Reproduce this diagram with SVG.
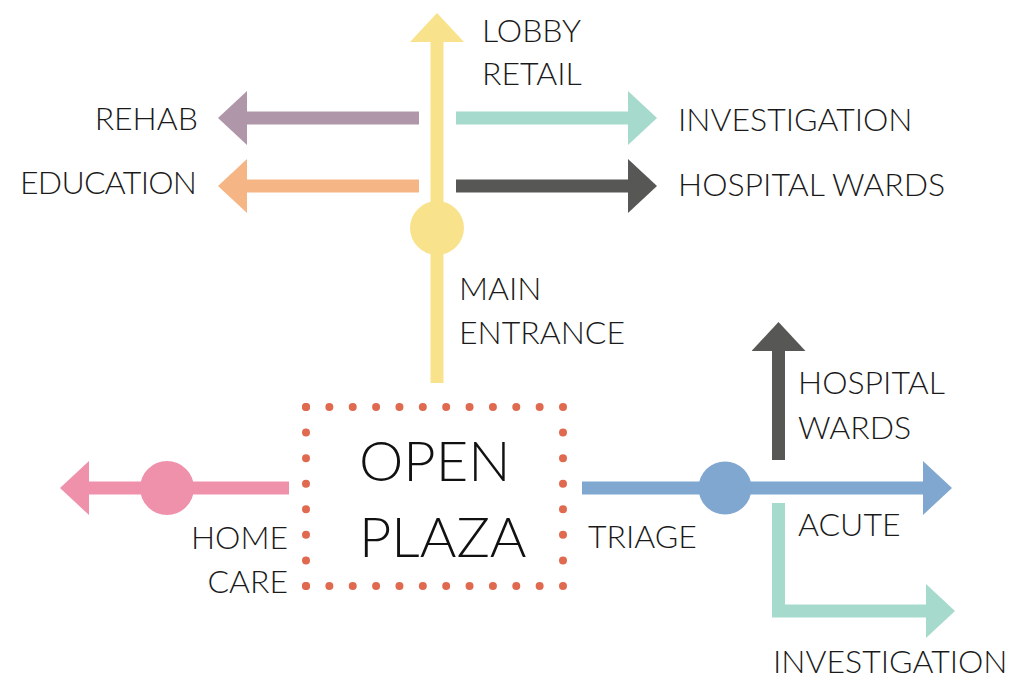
<svg xmlns="http://www.w3.org/2000/svg" width="1011" height="679" viewBox="0 0 1011 679">
<style>
.lbl{font-family:Lato,"Open Sans","Liberation Sans",sans-serif;font-weight:300;font-size:32px;fill:#1a1a1a}
.big{font-family:Lato,"Open Sans","Liberation Sans",sans-serif;font-weight:300;font-size:56px;fill:#111}
.c{fill:none;stroke-width:13}
</style>
<defs>
<marker id="hY" markerUnits="userSpaceOnUse" markerWidth="30" markerHeight="54" viewBox="0 0 30 54" refX="0" refY="27" orient="auto"><path d="M0,0 L29,27 L0,54 Z" fill="#F9E28C"/></marker>
<marker id="hP" markerUnits="userSpaceOnUse" markerWidth="30" markerHeight="54" viewBox="0 0 30 54" refX="0" refY="27" orient="auto"><path d="M0,0 L29,27 L0,54 Z" fill="#AF97A9"/></marker>
<marker id="hT" markerUnits="userSpaceOnUse" markerWidth="30" markerHeight="54" viewBox="0 0 30 54" refX="0" refY="27" orient="auto"><path d="M0,0 L29,27 L0,54 Z" fill="#A6DACD"/></marker>
<marker id="hO" markerUnits="userSpaceOnUse" markerWidth="30" markerHeight="54" viewBox="0 0 30 54" refX="0" refY="27" orient="auto"><path d="M0,0 L29,27 L0,54 Z" fill="#F6B585"/></marker>
<marker id="hD" markerUnits="userSpaceOnUse" markerWidth="30" markerHeight="54" viewBox="0 0 30 54" refX="0" refY="27" orient="auto"><path d="M0,0 L29,27 L0,54 Z" fill="#575755"/></marker>
<marker id="hK" markerUnits="userSpaceOnUse" markerWidth="30" markerHeight="54" viewBox="0 0 30 54" refX="0" refY="27" orient="auto"><path d="M0,0 L29,27 L0,54 Z" fill="#EF91AB"/></marker>
<marker id="hB" markerUnits="userSpaceOnUse" markerWidth="30" markerHeight="54" viewBox="0 0 30 54" refX="0" refY="27" orient="auto"><path d="M0,0 L29,27 L0,54 Z" fill="#80A7D0"/></marker>
</defs>
<rect width="1011" height="679" fill="#fff"/>
<g id="connectors">
<path class="c" d="M437,383 V42" stroke="#F9E28C" marker-end="url(#hY)"/>
<path class="c" d="M419,118 H247" stroke="#AF97A9" marker-end="url(#hP)"/>
<path class="c" d="M456,118 H628" stroke="#A6DACD" marker-end="url(#hT)"/>
<path class="c" d="M419,186 H247" stroke="#F6B585" marker-end="url(#hO)"/>
<path class="c" d="M456,186 H628" stroke="#575755" marker-end="url(#hD)"/>
<path class="c" d="M289,488 H89" stroke="#EF91AB" marker-end="url(#hK)"/>
<path class="c" d="M582,488 H923" stroke="#80A7D0" marker-end="url(#hB)"/>
<path class="c" d="M778.5,460 V351" stroke="#575755" marker-end="url(#hD)"/>
<path class="c" d="M778.5,503 V611 H926" stroke="#A6DACD" marker-end="url(#hT)"/>
</g>
<g id="main-entrance">
<circle cx="437" cy="228" r="27" fill="#F9E28C"/>
<text class="lbl" x="459" y="300">MAIN</text>
<text class="lbl" x="459" y="344">ENTRANCE</text>
</g>
<g id="lobby-retail">
<text class="lbl" x="482" y="42">LOBBY</text>
<text class="lbl" x="482" y="85">RETAIL</text>
</g>
<g id="rehab"><text class="lbl" x="198" y="130" text-anchor="end">REHAB</text></g>
<g id="education"><text class="lbl" x="197" y="194" text-anchor="end" textLength="177">EDUCATION</text></g>
<g id="investigation-top"><text class="lbl" x="678" y="131">INVESTIGATION</text></g>
<g id="hospital-wards-top"><text class="lbl" x="678" y="196">HOSPITAL WARDS</text></g>
<g id="open-plaza">
<g stroke="#E06A50" stroke-width="8" stroke-linecap="round">
<path d="M306,407 H563 M306,586 H563" stroke-dasharray="0 23.364"/>
<path d="M306,407 V586 M563,407 V586" stroke-dasharray="0 25.571"/>
</g>
<text class="big" x="359" y="481">OPEN</text>
<text class="big" x="359" y="557">PLAZA</text>
</g>
<g id="home-care">
<circle cx="167" cy="488" r="27" fill="#EF91AB"/>
<text class="lbl" x="288" y="549" text-anchor="end">HOME</text>
<text class="lbl" x="288" y="593" text-anchor="end">CARE</text>
</g>
<g id="triage">
<circle cx="725" cy="488" r="26.5" fill="#80A7D0"/>
<text class="lbl" x="588" y="548">TRIAGE</text>
</g>
<g id="hospital-wards-right">
<text class="lbl" x="798" y="394">HOSPITAL</text>
<text class="lbl" x="798" y="439">WARDS</text>
</g>
<g id="acute"><text class="lbl" x="798" y="536">ACUTE</text></g>
<g id="investigation-bottom"><text class="lbl" x="773" y="673">INVESTIGATION</text></g>
</svg>
